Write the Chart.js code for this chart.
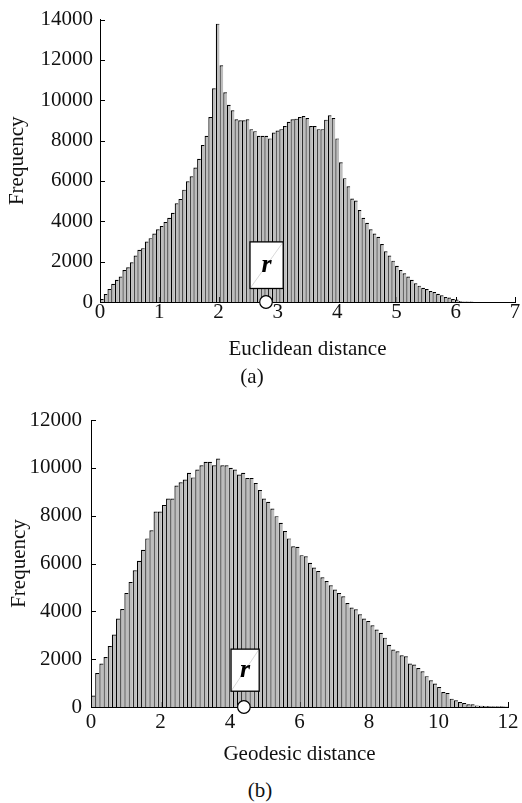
<!DOCTYPE html>
<html>
<head>
<meta charset="utf-8">
<script src="https://cdn.jsdelivr.net/npm/chart.js@4.4.0/dist/chart.umd.min.js"></script>
<style>
  html, body { margin: 0; padding: 0; background: #fff; }
  body { width: 522px; height: 803px; position: relative; overflow: hidden; font-family: "Liberation Serif", serif; }
  canvas { position: absolute; left: 0; }
  #chartA { top: 0; }
  #chartB { top: 395px; }
  .caption { position: absolute; font-size: 21px; color: #111; transform: translate(-50%, -50%); }
</style>
</head>
<body>
<canvas id="chartA" width="522" height="365"></canvas>
<canvas id="chartB" width="522" height="380"></canvas>
<div class="caption" style="left:252px; top:376px;">(a)</div>
<div class="caption" style="left:260px; top:790px;">(b)</div>
<script>
// ------------------------------
// Data (100 bins each)
// ------------------------------
const euclidBinWidth = 0.063;
const euclidCounts = [
    150, 400, 650, 900, 1100, 1260, 1590, 1720, 1970, 2300,
    2590, 2670, 3000, 3165, 3390, 3610, 3770, 3970, 4180, 4420,
    4890, 5110, 5570, 5980, 6230, 6670, 7100, 7780, 8240, 9170,
    10600, 13800, 11740, 10400, 9780, 9500, 9060, 9010, 9010, 9060,
    8570, 8470, 8240, 8240, 8240, 8110, 8400, 8500, 8570, 8720,
    8930, 9060, 9090, 9170, 9220, 9120, 8720, 8720, 8570, 8570,
    9040, 9260, 9120, 8110, 6930, 6140, 5740, 5130, 5030, 4560,
    4180, 3930, 3610, 3390, 3230, 2870, 2510, 2300, 2050, 1800,
    1590, 1420, 1260, 1100, 930, 810, 710, 640, 540, 490,
    410, 330, 250, 220, 150, 120, 50, 30, 20, 20
];
const euclidXTicks = [0, 1, 2, 3, 4, 5, 6, 7];
const euclidYTicks = [0, 2000, 4000, 6000, 8000, 10000, 12000, 14000];

const geoBinWidth = 0.12;
const geoCounts = [
    480, 1420, 1820, 2090, 2550, 3030, 3700, 4100, 4770, 5230,
    5720, 6110, 6570, 7050, 7390, 8170, 8170, 8450, 8720, 8720,
    9260, 9400, 9515, 9790, 9600, 9930, 10110, 10250, 10250, 10110,
    10390, 10110, 10110, 10000, 9930, 9720, 9790, 9580, 9580, 9370,
    9070, 8720, 8580, 8300, 7980, 7700, 7360, 7050, 6720, 6700,
    6350, 6300, 6030, 5830, 5690, 5420, 5270, 5090, 4910, 4770,
    4630, 4350, 4160, 4090, 3880, 3700, 3600, 3420, 3240, 3100,
    2900, 2600, 2400, 2330, 2160, 2120, 1820, 1780, 1630, 1490,
    1290, 1120, 980, 840, 630, 590, 350, 280, 210, 170,
    110, 110, 60, 50, 40, 40, 30, 30, 30, 20
];
const geoXTicks = [0, 2, 4, 6, 8, 10, 12];
const geoYTicks = [0, 2000, 4000, 6000, 8000, 10000, 12000];

// the "r" marker: circle on the axis and the labelled box above it (data units)
const euclidMarker = { x: 2.8, boxXMin: 2.53, boxXMax: 3.09, boxYMin: 670, boxYMax: 2980 };
const geoMarker = { x: 4.4, boxXMin: 4.03, boxXMax: 4.84, boxYMin: 660, boxYMax: 2420 };

const SERIF = '"Liberation Serif", "Times New Roman", serif';
const INK = '#111';

// ------------------------------
// Small inward tick marks on both axes
// ------------------------------
const inwardTicks = {
    id: 'inwardTicks',
    beforeDatasetsDraw(chart) {
        const { ctx, chartArea, scales: { x, y } } = chart;
        ctx.save();
        ctx.strokeStyle = '#000';
        ctx.lineWidth = 1;
        ctx.beginPath();
        y.ticks.forEach(t => {
            const py = Math.round(y.getPixelForValue(t.value)) + 0.5;
            ctx.moveTo(chartArea.left, py);
            ctx.lineTo(chartArea.left + 5, py);
        });
        x.ticks.forEach(t => {
            const px = Math.round(x.getPixelForValue(t.value)) + 0.5;
            ctx.moveTo(px, chartArea.bottom);
            ctx.lineTo(px, chartArea.bottom - 5);
        });
        ctx.stroke();
        ctx.restore();
    }
};

// ------------------------------
// The "r" box and the open circle on the axis
// ------------------------------
const rMarker = {
    id: 'rMarker',
    afterDraw(chart, args, opts) {
        const m = opts.marker;
        if (!m) return;
        const { ctx, scales: { x, y } } = chart;
        const l = x.getPixelForValue(m.boxXMin);
        const r = x.getPixelForValue(m.boxXMax);
        const t = y.getPixelForValue(m.boxYMax);
        const b = y.getPixelForValue(m.boxYMin);
        ctx.save();
        ctx.fillStyle = '#fff';
        ctx.fillRect(l, t, r - l, b - t);
        ctx.strokeStyle = '#cfcfcf';
        ctx.lineWidth = 0.8;
        ctx.beginPath();
        ctx.moveTo(l, b);
        ctx.lineTo(r, t);
        ctx.stroke();
        ctx.strokeStyle = '#000';
        ctx.lineWidth = 1.3;
        ctx.strokeRect(l, t, r - l, b - t);
        ctx.fillStyle = '#000';
        ctx.font = 'italic bold 26px ' + SERIF;
        ctx.textAlign = 'center';
        ctx.textBaseline = 'middle';
        ctx.fillText('r', (l + r) / 2, (t + b) / 2);

        // open circle sitting on the x axis
        const cx = x.getPixelForValue(m.x);
        const cy = y.getPixelForValue(0);
        ctx.beginPath();
        ctx.arc(cx, cy, 6.3, 0, Math.PI * 2);
        ctx.fillStyle = '#fff';
        ctx.fill();
        ctx.lineWidth = 1.2;
        ctx.stroke();
        ctx.restore();
    }
};

// ------------------------------
// Build one histogram chart
// ------------------------------
function makeHistogram(canvasId, cfg) {
    const points = cfg.counts.map((c, i) => ({ x: (i + 0.5) * cfg.binWidth, y: c }));
    return new Chart(document.getElementById(canvasId), {
        type: 'bar',
        data: {
            datasets: [{
                data: points,
                backgroundColor: '#bdbdbd',
                borderColor: '#000',
                borderWidth: { left: 1.2, top: 1.2, right: 0, bottom: 0 },
                borderSkipped: false,
                barPercentage: 1,
                categoryPercentage: 1,
                inflateAmount: 0
            }]
        },
        options: {
            responsive: false,
            animation: false,
            events: [],
            layout: { padding: { top: cfg.padTop, right: cfg.padRight, left: 0, bottom: 0 } },
            plugins: {
                legend: { display: false },
                tooltip: { enabled: false },
                rMarker: { marker: cfg.marker }
            },
            scales: {
                x: {
                    type: 'linear',
                    offset: false,
                    min: cfg.xTicks[0],
                    max: cfg.xTicks[cfg.xTicks.length - 1],
                    afterBuildTicks: s => { s.ticks = cfg.xTicks.map(v => ({ value: v })); },
                    afterFit: s => { s.height = cfg.xAxisHeight; },
                    grid: { display: false, drawTicks: false },
                    border: { display: true, color: '#000', width: 1, z: 1 },
                    ticks: {
                        color: INK,
                        padding: cfg.xTickPad,
                        maxRotation: 0,
                        autoSkip: false,
                        callback: v => String(v),
                        font: { family: SERIF, size: 21, lineHeight: 1.2 }
                    },
                    title: {
                        display: true,
                        text: cfg.xTitle,
                        color: INK,
                        font: { family: SERIF, size: 21, lineHeight: 1.2 },
                        padding: { top: 0, bottom: cfg.xTitlePad }
                    }
                },
                y: {
                    min: 0,
                    max: cfg.yTicks[cfg.yTicks.length - 1],
                    afterBuildTicks: s => { s.ticks = cfg.yTicks.map(v => ({ value: v })); },
                    afterFit: s => { s.width = cfg.yAxisWidth; },
                    grid: { display: false, drawTicks: false },
                    border: { display: true, color: '#000', width: 1, z: 1 },
                    ticks: {
                        color: INK,
                        padding: cfg.yTickPad,
                        callback: v => String(v),
                        font: { family: SERIF, size: 21 }
                    },
                    title: {
                        display: true,
                        text: 'Frequency',
                        color: INK,
                        font: { family: SERIF, size: 21, lineHeight: 1.2 },
                        padding: { top: cfg.yTitlePad, bottom: 0 }
                    }
                }
            }
        },
        plugins: [inwardTicks, rMarker]
    });
}

document.fonts.load('21px "Liberation Serif"').finally(() => {
    makeHistogram('chartA', {
        counts: euclidCounts, binWidth: euclidBinWidth,
        xTicks: euclidXTicks, yTicks: euclidYTicks,
        xTitle: 'Euclidean distance', marker: euclidMarker,
        padTop: 17, padRight: 7, yAxisWidth: 100, xAxisHeight: 63,
        xTickPad: -2, xTitlePad: 3, yTickPad: 7, yTitlePad: 5
    });
    makeHistogram('chartB', {
        counts: geoCounts, binWidth: geoBinWidth,
        xTicks: geoXTicks, yTicks: geoYTicks,
        xTitle: 'Geodesic distance', marker: geoMarker,
        padTop: 25, padRight: 14, yAxisWidth: 91, xAxisHeight: 68,
        xTickPad: 3, xTitlePad: 8, yTickPad: 9, yTitlePad: 7
    });
});
</script>
</body>
</html>
